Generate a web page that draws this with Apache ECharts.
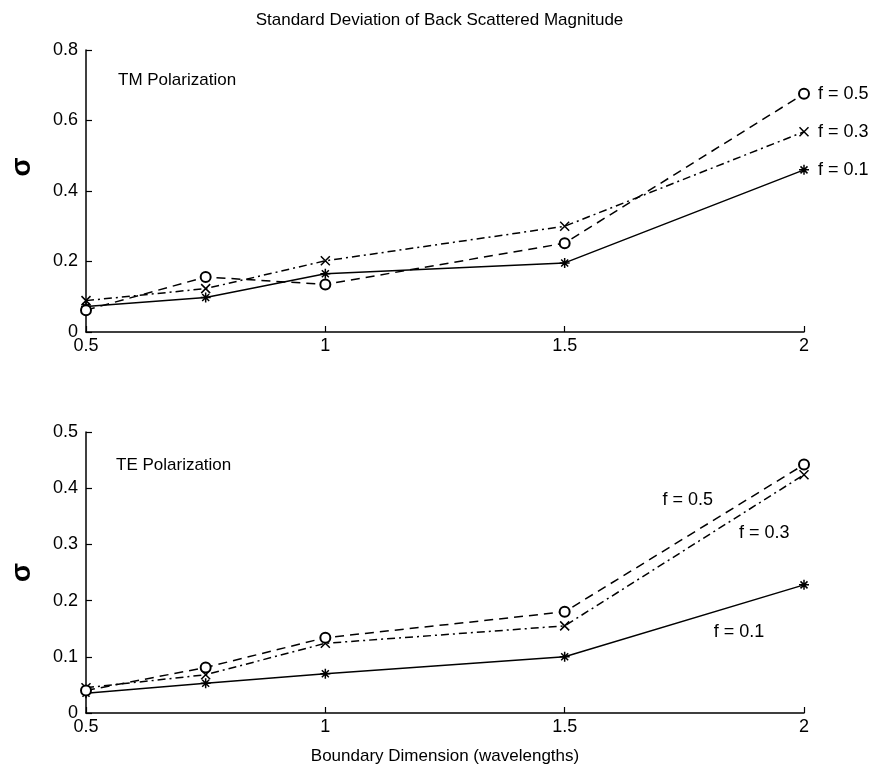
<!DOCTYPE html>
<html>
<head>
<meta charset="utf-8">
<script src="https://cdn.jsdelivr.net/npm/echarts@6/dist/echarts.min.js"></script>
<style>
  html, body { margin: 0; padding: 0; background: #fff; }
  #chart { width: 879px; height: 771px; }
</style>
</head>
<body>
<div id="chart"></div>
<script>
// boundary dimension (wavelengths)
var dims = [0.5, 0.75, 1, 1.5, 2];

// TM polarization
var tmF01 = [0.072, 0.098, 0.165, 0.196, 0.460];
var tmF03 = [0.089, 0.123, 0.202, 0.300, 0.568];
var tmF05 = [0.062, 0.156, 0.135, 0.252, 0.676];

// TE polarization
var teF01 = [0.035, 0.053, 0.070, 0.100, 0.228];
var teF03 = [0.045, 0.068, 0.124, 0.155, 0.424];
var teF05 = [0.040, 0.081, 0.134, 0.180, 0.442];

var seriesNames = ['f = 0.1', 'f = 0.3', 'f = 0.5'];
// where the TE curve labels sit, in data units [x, y]
var teLabelPos = [[1.864, 0.144], [1.917, 0.32], [1.757, 0.379]];

var FONT = '"Liberation Sans", Arial, sans-serif';

var asterisk = 'path://M5,0L5,10M0,5L10,5M1.5,1.5L8.5,8.5M8.5,1.5L1.5,8.5';
var cross = 'path://M0,0L10,10M10,0L0,10';

var styles = [
  { symbol: asterisk, symbolSize: 10, dash: 'solid' },
  { symbol: cross, symbolSize: 9, dash: [8, 4, 2, 4] },
  { symbol: 'emptyCircle', symbolSize: 10, dash: [9, 6] }
];

function pairs(ys) {
  return dims.map(function (d, i) { return [d, ys[i]]; });
}

function makeSeries(idx, k, ys, extra) {
  var st = styles[k];
  var s = {
    name: seriesNames[k],
    type: 'line',
    xAxisIndex: idx,
    yAxisIndex: idx,
    data: pairs(ys),
    symbol: st.symbol,
    symbolSize: st.symbolSize,
    showSymbol: true,
    animation: false,
    silent: true,
    lineStyle: { color: '#000', width: 1.5, type: st.dash },
    itemStyle: {
      color: st.symbol === 'emptyCircle' ? '#000' : 'transparent',
      borderColor: '#000',
      borderWidth: 1.5
    },
    z: 3
  };
  for (var key in extra) s[key] = extra[key];
  return s;
}

var axisCommon = {
  axisLine: { show: true, lineStyle: { color: '#000', width: 1.5 } },
  axisTick: { show: true, inside: true, length: 6, lineStyle: { color: '#000', width: 1.2 } },
  splitLine: { show: false },
  axisLabel: { color: '#000', fontSize: 18, fontFamily: FONT }
};

function xAxis(idx, name) {
  return Object.assign({}, axisCommon, {
    type: 'value', gridIndex: idx, min: 0.5, max: 2, interval: 0.5,
    axisLabel: Object.assign({}, axisCommon.axisLabel, { margin: 5 }),
    name: name || '',
    nameLocation: 'middle',
    nameGap: 35,
    nameTextStyle: { color: '#000', fontSize: 17, fontFamily: FONT }
  });
}

function yAxis(idx, max, interval, namePad) {
  return Object.assign({}, axisCommon, {
    type: 'value', gridIndex: idx, min: 0, max: max, interval: interval,
    axisLabel: Object.assign({}, axisCommon.axisLabel, { margin: 8 }),
    name: 'σ',
    nameLocation: 'middle',
    nameRotate: 90,
    nameGap: 50,
    nameTextStyle: { color: '#000', fontSize: 28, fontWeight: 'bold', fontFamily: FONT, padding: namePad }
  });
}

var endLabel = function (k) {
  return {
    endLabel: {
      show: true, formatter: seriesNames[k], distance: 14,
      color: '#000', fontSize: 18, fontFamily: FONT
    }
  };
};

var teMark = function (k) {
  return {
    markPoint: {
      symbol: 'circle', symbolSize: 0, silent: true,
      data: [{ coord: teLabelPos[k] }],
      label: {
        show: true, position: 'inside', formatter: seriesNames[k],
        color: '#000', fontSize: 18, fontFamily: FONT
      }
    }
  };
};

var chart = echarts.init(document.getElementById('chart'), null, { renderer: 'canvas' });
chart.setOption({
  backgroundColor: '#fff',
  title: {
    text: 'Standard Deviation of Back Scattered Magnitude',
    left: 'center', top: 7,
    textStyle: { color: '#000', fontSize: 17, fontWeight: 'normal', fontFamily: FONT }
  },
  grid: [
    { left: 76, right: 75, top: 50, height: 282 },
    { left: 76, right: 75, top: 432, height: 281 }
  ],
  xAxis: [xAxis(0), xAxis(1, 'Boundary Dimension (wavelengths)')],
  yAxis: [yAxis(0, 0.8, 0.2, [0, 0, 0, 48]), yAxis(1, 0.5, 0.1, 0)],
  graphic: [
    { type: 'text', left: 118, top: 72, style: { text: 'TM Polarization', fill: '#000', font: '17px ' + FONT } },
    { type: 'text', left: 116, top: 457, style: { text: 'TE Polarization', fill: '#000', font: '17px ' + FONT } }
  ],
  series: [
    makeSeries(0, 0, tmF01, endLabel(0)),
    makeSeries(0, 1, tmF03, endLabel(1)),
    makeSeries(0, 2, tmF05, endLabel(2)),
    makeSeries(1, 0, teF01, teMark(0)),
    makeSeries(1, 1, teF03, teMark(1)),
    makeSeries(1, 2, teF05, teMark(2))
  ]
});
</script>
</body>
</html>
